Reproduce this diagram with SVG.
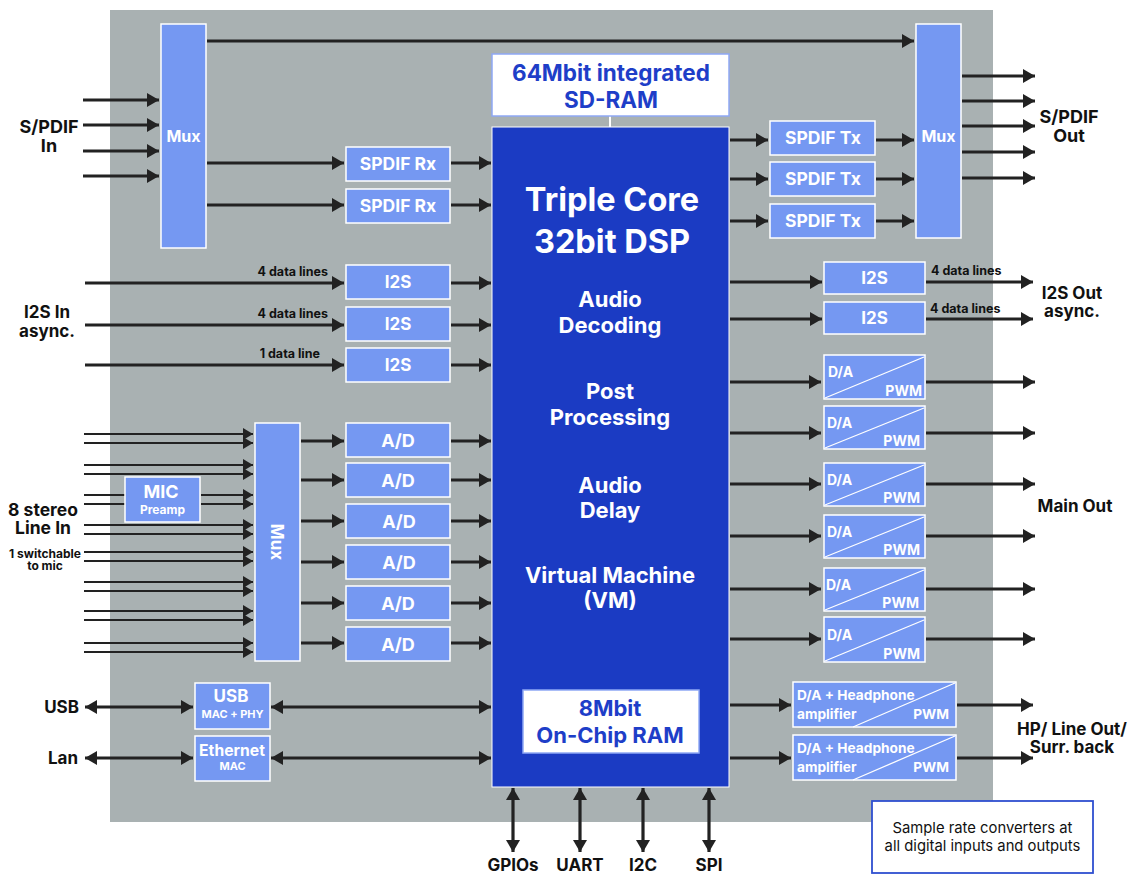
<svg xmlns="http://www.w3.org/2000/svg" width="1134" height="875" viewBox="0 0 1134 875">
<defs>
<style>
.bx{fill:#7598f2;stroke:#ffffff;stroke-width:1.5}
.ln{stroke:#222;stroke-width:3.2;fill:none}
.tl{stroke:#222;stroke-width:2;fill:none}
.a{marker-end:url(#ah)}
.d{marker-end:url(#ah);marker-start:url(#ah)}
.at{marker-end:url(#ahs)}
.t{font-family:Inter,"Liberation Sans",sans-serif;font-weight:700}
.w{fill:#ffffff;text-anchor:middle}
.k{fill:#111111}
.c{text-anchor:middle}
.diag{stroke:#ffffff;stroke-width:1.3}
</style>
<marker id="ah" viewBox="0 0 12 14" refX="12" refY="7" markerWidth="12" markerHeight="14" markerUnits="userSpaceOnUse" orient="auto-start-reverse"><path d="M0,0 L12,7 L0,14 z" fill="#222"/></marker>
<marker id="ahs" viewBox="0 0 10 12" refX="10" refY="6" markerWidth="10" markerHeight="12" markerUnits="userSpaceOnUse" orient="auto"><path d="M0,0 L10,6 L0,12 z" fill="#222"/></marker>
</defs>
<rect width="1134" height="875" fill="#ffffff"/>
<rect id="board" x="110" y="10" width="883" height="812" fill="#a9b1b2"/>

<g id="connectors">
<path class="ln a" d="M207,41 H914"/>
<path class="ln a" d="M83,100 H159"/>
<path class="ln a" d="M83,125 H159"/>
<path class="ln a" d="M83,151 H159"/>
<path class="ln a" d="M83,176 H159"/>
<path class="ln a" d="M207,163 H344"/>
<path class="ln a" d="M207,205 H344"/>
<path class="ln a" d="M451,163 H491"/>
<path class="ln a" d="M451,205 H491"/>
<path class="ln a" d="M730,140 H768"/>
<path class="ln a" d="M730,179 H768"/>
<path class="ln a" d="M730,221 H768"/>
<path class="ln a" d="M876,140 H914"/>
<path class="ln a" d="M876,179 H914"/>
<path class="ln a" d="M876,221 H914"/>
<path class="ln a" d="M962,76 H1035"/>
<path class="ln a" d="M962,101 H1035"/>
<path class="ln a" d="M962,126 H1035"/>
<path class="ln a" d="M962,152 H1035"/>
<path class="ln a" d="M962,178 H1035"/>
<path class="ln a" d="M85,283 H344"/>
<path class="ln a" d="M85,325 H344"/>
<path class="ln a" d="M85,365 H344"/>
<path class="ln a" d="M451,283 H491"/>
<path class="ln a" d="M451,325 H491"/>
<path class="ln a" d="M451,365 H491"/>
<path class="ln a" d="M730,282 H822"/>
<path class="ln a" d="M730,319 H822"/>
<path class="ln a" d="M926,282 H1033"/>
<path class="ln a" d="M926,319 H1033"/>
<path class="ln a" d="M730,382 H821"/>
<path class="ln a" d="M730,433 H821"/>
<path class="ln a" d="M730,484 H821"/>
<path class="ln a" d="M730,536 H821"/>
<path class="ln a" d="M730,589 H821"/>
<path class="ln a" d="M730,639 H821"/>
<path class="ln a" d="M926,382 H1035"/>
<path class="ln a" d="M926,433 H1035"/>
<path class="ln a" d="M926,484 H1035"/>
<path class="ln a" d="M926,536 H1035"/>
<path class="ln a" d="M926,589 H1035"/>
<path class="ln a" d="M926,639 H1035"/>
<path class="ln a" d="M730,705 H791"/>
<path class="ln a" d="M730,758 H791"/>
<path class="ln a" d="M957,705 H1033"/>
<path class="ln a" d="M957,758 H1033"/>
<path class="tl at" d="M84,434 H253"/>
<path class="tl at" d="M84,443 H253"/>
<path class="tl at" d="M84,465 H253"/>
<path class="tl at" d="M84,474 H253"/>
<path class="tl" d="M84,495 H125"/>
<path class="tl" d="M84,504 H125"/>
<path class="tl at" d="M201,495 H253"/>
<path class="tl at" d="M201,504 H253"/>
<path class="tl at" d="M84,525 H253"/>
<path class="tl at" d="M84,534 H253"/>
<path class="tl at" d="M84,552 H253"/>
<path class="tl at" d="M84,561 H253"/>
<path class="tl at" d="M84,582 H253"/>
<path class="tl at" d="M84,591 H253"/>
<path class="tl at" d="M84,611 H253"/>
<path class="tl at" d="M84,620 H253"/>
<path class="tl at" d="M84,643 H253"/>
<path class="tl at" d="M84,652 H253"/>
<path class="ln a" d="M301,441 H344"/>
<path class="ln a" d="M301,480 H344"/>
<path class="ln a" d="M301,521 H344"/>
<path class="ln a" d="M301,562 H344"/>
<path class="ln a" d="M301,603 H344"/>
<path class="ln a" d="M301,643 H344"/>
<path class="ln a" d="M451,441 H491"/>
<path class="ln a" d="M451,480 H491"/>
<path class="ln a" d="M451,521 H491"/>
<path class="ln a" d="M451,562 H491"/>
<path class="ln a" d="M451,603 H491"/>
<path class="ln a" d="M451,643 H491"/>
<path class="ln d" d="M85,707 H193"/>
<path class="ln d" d="M85,758 H193"/>
<path class="ln d" d="M271,707 H491"/>
<path class="ln d" d="M271,758 H491"/>
<path class="ln d" d="M513,788 V852"/>
<path class="ln d" d="M580,788 V852"/>
<path class="ln d" d="M643,788 V852"/>
<path class="ln d" d="M709,788 V852"/>
<path d="M610,116 V127" stroke="#ffffff" stroke-width="2"/>
</g>

<g id="mux-in">
<rect class="bx" x="161" y="24" width="45" height="224"/>
<text class="t w" x="183.5" y="142" font-size="16">Mux</text>
</g>
<g id="spdif-rx-1"><rect class="bx" x="346" y="147" width="104" height="34"/><text class="t w" x="398" y="170" font-size="17.5">SPDIF Rx</text></g>
<g id="spdif-rx-2"><rect class="bx" x="346" y="189" width="104" height="34"/><text class="t w" x="398" y="212" font-size="17.5">SPDIF Rx</text></g>

<g id="sdram">
<rect x="492" y="54" width="237" height="62" fill="#ffffff" stroke="#8fa8f5" stroke-width="1.5"/>
<text class="t c" x="611" y="81" font-size="22.5" fill="#1e3ec8">64Mbit integrated</text>
<text class="t c" x="611" y="108" font-size="22.5" fill="#1e3ec8">SD-RAM</text>
</g>

<g id="dsp">
<rect x="492" y="127" width="237" height="660" fill="#1b3bc3" stroke="#ffffff" stroke-width="1"/>
<text class="t w" x="612" y="211" font-size="32.5">Triple Core</text>
<text class="t w" x="612" y="253" font-size="32.5">32bit DSP</text>
<text class="t w" x="610" y="307" font-size="22">Audio</text>
<text class="t w" x="610" y="333" font-size="22">Decoding</text>
<text class="t w" x="610" y="399" font-size="22">Post</text>
<text class="t w" x="610" y="425" font-size="22">Processing</text>
<text class="t w" x="610" y="493" font-size="22">Audio</text>
<text class="t w" x="610" y="518" font-size="22">Delay</text>
<text class="t w" x="610" y="583" font-size="22">Virtual Machine</text>
<text class="t w" x="610" y="608" font-size="22">(VM)</text>
</g>
<g id="onchip-ram">
<rect x="523" y="690" width="176" height="63" fill="#ffffff" stroke="#8fa8f5" stroke-width="1.5"/>
<text class="t c" x="610" y="716" font-size="22" fill="#1e3ec8">8Mbit</text>
<text class="t c" x="610" y="743" font-size="22" fill="#1e3ec8">On-Chip RAM</text>
</g>

<g id="spdif-tx-1"><rect class="bx" x="770" y="121" width="105" height="34"/><text class="t w" x="823" y="144" font-size="17.5">SPDIF Tx</text></g>
<g id="spdif-tx-2"><rect class="bx" x="770" y="162" width="105" height="34"/><text class="t w" x="823" y="185" font-size="17.5">SPDIF Tx</text></g>
<g id="spdif-tx-3"><rect class="bx" x="770" y="204" width="105" height="34"/><text class="t w" x="823" y="227" font-size="17.5">SPDIF Tx</text></g>
<g id="mux-out">
<rect class="bx" x="916" y="24" width="45" height="214"/>
<text class="t w" x="938.5" y="142" font-size="16">Mux</text>
</g>

<g id="i2s-in-1"><rect class="bx" x="346" y="265" width="104" height="34"/><text class="t w" x="398" y="288" font-size="17">I2S</text></g>
<g id="i2s-in-2"><rect class="bx" x="346" y="307" width="104" height="34"/><text class="t w" x="398" y="330" font-size="17">I2S</text></g>
<g id="i2s-in-3"><rect class="bx" x="346" y="348" width="104" height="34"/><text class="t w" x="398" y="371" font-size="17">I2S</text></g>
<g id="i2s-in-labels">
<text class="t k" x="328" y="276" font-size="12.5" text-anchor="end">4 data lines</text>
<text class="t k" x="328" y="318" font-size="12.5" text-anchor="end">4 data lines</text>
<text class="t k" x="320" y="358" font-size="12.5" text-anchor="end">1 data line</text>
</g>

<g id="i2s-out-1"><rect class="bx" x="824" y="262" width="101" height="32"/><text class="t w" x="874.5" y="284" font-size="17">I2S</text></g>
<g id="i2s-out-2"><rect class="bx" x="824" y="302" width="101" height="32"/><text class="t w" x="874.5" y="324" font-size="17">I2S</text></g>
<g id="i2s-out-labels">
<text class="t k" x="931" y="275" font-size="12.5">4 data lines</text>
<text class="t k" x="930" y="313" font-size="12.5">4 data lines</text>
</g>

<g id="adc-mux">
<rect class="bx" x="255" y="423" width="45" height="238"/>
<text class="t w" transform="translate(271,542) rotate(90)" x="0" y="0" font-size="17">Mux</text>
</g>
<g id="ad-1"><rect class="bx" x="346" y="423" width="104" height="34"/><text class="t w" x="398" y="447" font-size="18">A/D</text></g>
<g id="ad-2"><rect class="bx" x="346" y="463" width="104" height="34"/><text class="t w" x="398" y="487" font-size="18">A/D</text></g>
<g id="ad-3"><rect class="bx" x="346" y="504" width="104" height="34"/><text class="t w" x="399" y="528" font-size="18">A/D</text></g>
<g id="ad-4"><rect class="bx" x="346" y="545" width="104" height="34"/><text class="t w" x="399" y="569" font-size="18">A/D</text></g>
<g id="ad-5"><rect class="bx" x="346" y="586" width="104" height="34"/><text class="t w" x="398" y="610" font-size="18">A/D</text></g>
<g id="ad-6"><rect class="bx" x="346" y="627" width="104" height="34"/><text class="t w" x="398" y="651" font-size="18">A/D</text></g>
<g id="mic">
<rect class="bx" x="125" y="477" width="75" height="45"/>
<text class="t w" x="161" y="498" font-size="18">MIC</text>
<text class="t w" x="162.5" y="514" font-size="12">Preamp</text>
</g>

<g id="da-1"><rect class="bx" x="824" y="355" width="101" height="44"/><line class="diag" x1="825" y1="398" x2="924" y2="357"/><text class="t" x="828" y="377" font-size="14" fill="#fff">D/A</text><text class="t" x="922" y="396" font-size="14" fill="#fff" text-anchor="end">PWM</text></g>
<g id="da-2"><rect class="bx" x="824" y="406" width="101" height="43"/><line class="diag" x1="825" y1="448" x2="924" y2="408"/><text class="t" x="827" y="428" font-size="14" fill="#fff">D/A</text><text class="t" x="920" y="446" font-size="14" fill="#fff" text-anchor="end">PWM</text></g>
<g id="da-3"><rect class="bx" x="824" y="463" width="101" height="43"/><line class="diag" x1="825" y1="505" x2="924" y2="465"/><text class="t" x="827" y="485" font-size="14" fill="#fff">D/A</text><text class="t" x="920" y="503" font-size="14" fill="#fff" text-anchor="end">PWM</text></g>
<g id="da-4"><rect class="bx" x="824" y="515" width="101" height="43"/><line class="diag" x1="825" y1="557" x2="924" y2="517"/><text class="t" x="827" y="537" font-size="14" fill="#fff">D/A</text><text class="t" x="920" y="555" font-size="14" fill="#fff" text-anchor="end">PWM</text></g>
<g id="da-5"><rect class="bx" x="824" y="568" width="101" height="43"/><line class="diag" x1="825" y1="610" x2="924" y2="570"/><text class="t" x="826" y="590" font-size="14" fill="#fff">D/A</text><text class="t" x="919" y="608" font-size="14" fill="#fff" text-anchor="end">PWM</text></g>
<g id="da-6"><rect class="bx" x="824" y="617" width="101" height="45"/><line class="diag" x1="825" y1="661" x2="924" y2="620"/><text class="t" x="827" y="640" font-size="14" fill="#fff">D/A</text><text class="t" x="920" y="659" font-size="14" fill="#fff" text-anchor="end">PWM</text></g>

<g id="hp-1"><rect class="bx" x="793" y="682" width="163" height="45"/><line class="diag" x1="853" y1="727" x2="955" y2="683"/><text class="t" x="797" y="700" font-size="13.7" fill="#fff">D/A + Headphone</text><text class="t" x="797" y="719" font-size="13.7" fill="#fff">amplifier</text><text class="t" x="949" y="719" font-size="13.7" fill="#fff" text-anchor="end">PWM</text></g>
<g id="hp-2"><rect class="bx" x="793" y="735" width="163" height="45"/><line class="diag" x1="853" y1="780" x2="955" y2="736"/><text class="t" x="797" y="753" font-size="13.7" fill="#fff">D/A + Headphone</text><text class="t" x="797" y="772" font-size="13.7" fill="#fff">amplifier</text><text class="t" x="949" y="772" font-size="13.7" fill="#fff" text-anchor="end">PWM</text></g>

<g id="usb"><rect class="bx" x="195" y="683" width="75" height="46"/><text class="t w" x="231" y="702" font-size="17">USB</text><text class="t w" x="232.5" y="718" font-size="11">MAC + PHY</text></g>
<g id="ethernet"><rect class="bx" x="195" y="736" width="75" height="45"/><text class="t w" x="232" y="756" font-size="15.7">Ethernet</text><text class="t w" x="232.5" y="770" font-size="11">MAC</text></g>

<g id="src-note">
<rect x="872" y="801" width="221" height="72" fill="#ffffff" stroke="#2f4fd0" stroke-width="1.8"/>
<text x="982.5" y="833" font-family="Inter,'Liberation Sans',sans-serif" font-size="14.8" fill="#111" text-anchor="middle">Sample rate converters at</text>
<text x="982.5" y="851" font-family="Inter,'Liberation Sans',sans-serif" font-size="14.8" fill="#111" text-anchor="middle">all digital inputs and outputs</text>
</g>

<g id="labels">
<text class="t k c" x="49" y="133" font-size="18">S/PDIF</text>
<text class="t k c" x="49" y="152" font-size="18">In</text>
<text class="t k c" x="47" y="318" font-size="17">I2S In</text>
<text class="t k c" x="47" y="337" font-size="17">async.</text>
<text class="t k c" x="43" y="516" font-size="17.5">8 stereo</text>
<text class="t k c" x="43" y="534" font-size="17.5">Line In</text>
<text class="t k c" x="45" y="558" font-size="12">1 switchable</text>
<text class="t k c" x="45" y="570" font-size="12">to mic</text>
<text class="t k" x="79" y="713" font-size="17" text-anchor="end">USB</text>
<text class="t k" x="78" y="764" font-size="17" text-anchor="end">Lan</text>
<text class="t k c" x="1069" y="123" font-size="18">S/PDIF</text>
<text class="t k c" x="1069" y="142" font-size="18">Out</text>
<text class="t k c" x="1072" y="299" font-size="17">I2S Out</text>
<text class="t k c" x="1072" y="317" font-size="17">async.</text>
<text class="t k c" x="1075" y="512" font-size="17">Main Out</text>
<text class="t k c" x="1072" y="735" font-size="17">HP/ Line Out/</text>
<text class="t k c" x="1072" y="753" font-size="17">Surr. back</text>
<text class="t k c" x="513" y="871" font-size="17">GPIOs</text>
<text class="t k c" x="580" y="871" font-size="17">UART</text>
<text class="t k c" x="643" y="871" font-size="17">I2C</text>
<text class="t k c" x="709" y="871" font-size="17">SPI</text>
</g>
</svg>
